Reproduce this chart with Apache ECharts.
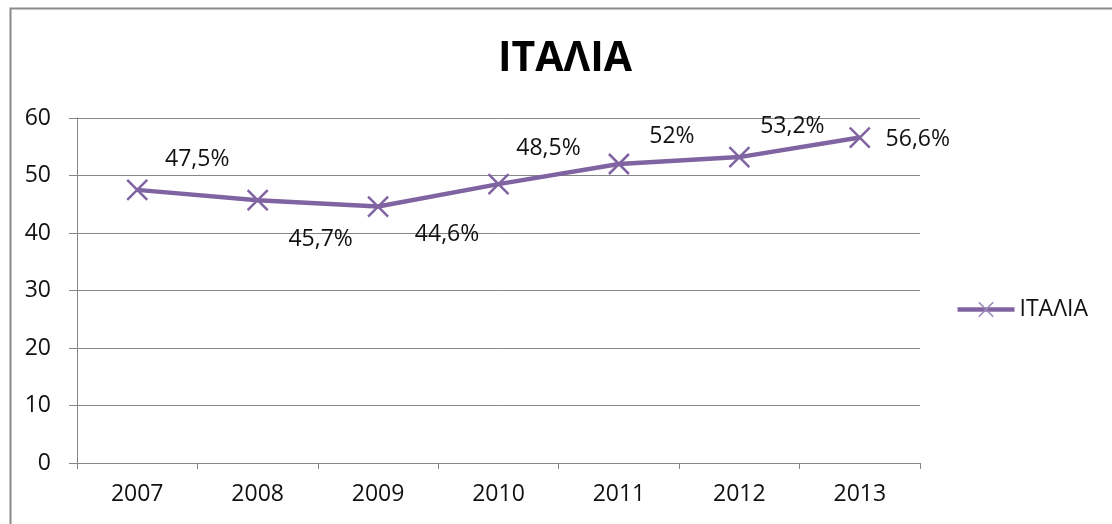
<!DOCTYPE html>
<html><head><meta charset="utf-8">
<script src="https://cdn.jsdelivr.net/npm/echarts@6/dist/echarts.min.js"></script>
<style>html,body{margin:0;padding:0;background:#fff;}#c{width:1112px;height:524px;}</style>
</head><body><div id="c"></div>
<script>
var categories = ['2007','2008','2009','2010','2011','2012','2013'];
var values = [47.5, 45.7, 44.6, 48.5, 52, 53.2, 56.6];
var valueLabels = ['47,5%','45,7%','44,6%','48,5%','52%','53,2%','56,6%'];
var labelOffsets = [[60,-30],[63,39],[69,28],[50,-36],[53,-28],[53,-31],[58,2]];
var seriesName = 'ΙΤΑΛΙΑ';
var titleText = 'ΙΤΑΛΙΑ';

var font = '"Open Sans","Noto Sans",sans-serif';
var purple = '#8064A2';
var crossPath = 'path://M0,0L10,10M10,0L0,10';

var chart = echarts.init(document.getElementById('c'));
chart.setOption({
  animation: false,
  backgroundColor: '#fff',
  graphic: [{
    type: 'rect', left: 8, top: 6, z: 100,
    shape: { width: 1120, height: 540 },
    style: { fill: 'none', stroke: '#8a8a8a', lineWidth: 2 }
  }],
  title: {
    text: titleText, left: 493, top: 34,
    textStyle: { fontFamily: font, fontSize: 41, fontWeight: 'bold', color: '#000' }
  },
  legend: {
    right: 19, orient: 'vertical', top: 293,
    itemWidth: 57, itemHeight: 18, itemGap: 4,
    textStyle: { fontFamily: font, fontSize: 23, color: '#111' },
    data: [{ name: seriesName, lineStyle: { width: 4.5, color: purple },
             itemStyle: { color: '#9a84b8', borderColor: '#9a84b8', borderWidth: 1.5 } }]
  },
  grid: { left: 77, right: 192, top: 118, bottom: 61, containLabel: false },
  xAxis: {
    type: 'category', data: categories, boundaryGap: true,
    axisLine: { lineStyle: { color: '#868686', width: 1 } },
    axisTick: { show: true, length: 6, lineStyle: { color: '#868686' } },
    axisLabel: { fontFamily: font, fontSize: 23, color: '#111', margin: 20 }
  },
  yAxis: {
    type: 'value', min: 0, max: 60, interval: 10,
    axisLine: { show: true, lineStyle: { color: '#868686', width: 1 } },
    axisTick: { show: true, length: 8, lineStyle: { color: '#868686' } },
    splitLine: { lineStyle: { color: '#868686', width: 1 } },
    axisLabel: { fontFamily: font, fontSize: 23, color: '#111', margin: 26 }
  },
  series: [{
    name: seriesName, type: 'line',
    data: values.map(function (v, i) {
      return {
        value: v,
        label: { offset: labelOffsets[i] }
      };
    }),
    symbol: crossPath, symbolSize: 20,
    lineStyle: { color: purple, width: 4.5 },
    itemStyle: { color: purple, borderColor: purple, borderWidth: 2.5 },
    label: {
      show: true, position: 'inside',
      fontFamily: font, fontSize: 23, color: '#111',
      formatter: function (p) { return valueLabels[p.dataIndex]; }
    }
  }]
});
</script></body></html>
